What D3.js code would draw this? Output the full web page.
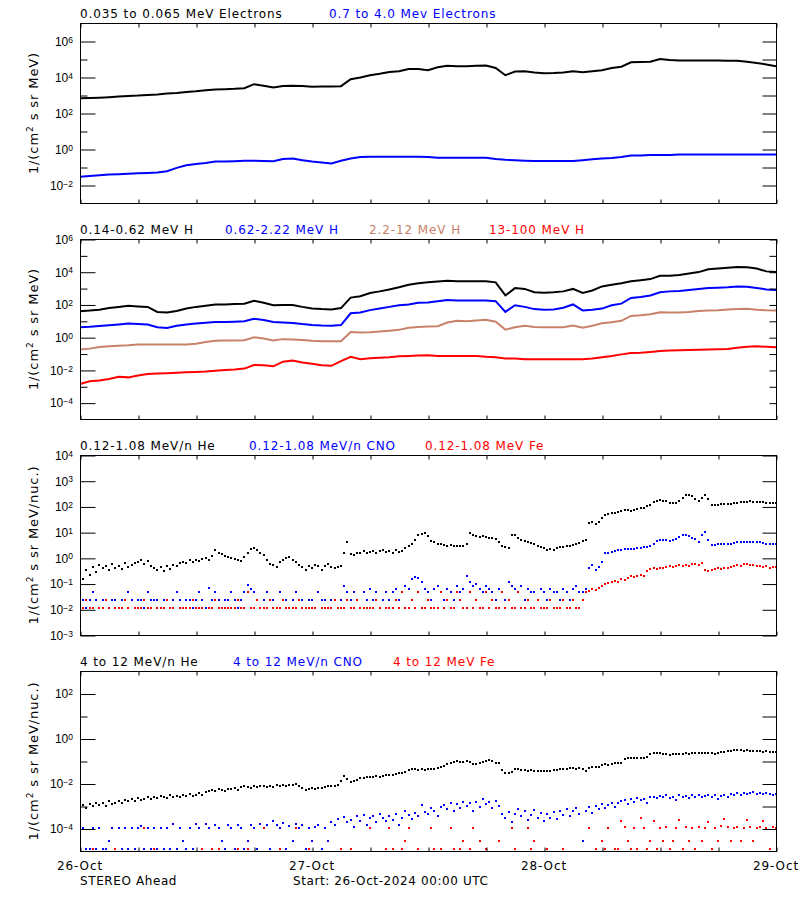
<!DOCTYPE html>
<html><head><meta charset="utf-8">
<script src="https://cdn.jsdelivr.net/npm/d3@7"></script>
<style>
body{margin:0;background:#fff;}
svg{display:block;}
</style></head><body>
<svg id="chart" width="800" height="900"></svg>
<script>
// ---------- time base ----------
const START = Date.UTC(2024, 9, 26, 0, 0);   // 26-Oct-2024 00:00 UTC
const SPAN_HOURS = 72;
const dayTicks = [0, 24, 48, 72];             // hours of day labels

// ---------- tick label exponents ----------
const p1Labels = [-2, 0, 2, 4, 6], p1Minors = [-1, 1, 3, 5];
const p2Labels = [-4, -2, 0, 2, 4, 6], p2Minors = [-3, -1, 1, 3, 5];
const p3Labels = [-3, -2, -1, 0, 1, 2, 3, 4], p3Minors = [];
const p4Labels = [-4, -2, 0, 2], p4Minors = [-3, -1, 1];

// ---------- series names ----------
const p1Names = ["0.035 to 0.065 MeV Electrons", "0.7 to 4.0 Mev Electrons"];
const p2Names = ["0.14-0.62 MeV H", "0.62-2.22 MeV H", "2.2-12 MeV H", "13-100 MeV H"];
const p3Names = ["0.12-1.08 MeV/n He", "0.12-1.08 MeV/n CNO", "0.12-1.08 MeV Fe"];
const p4Names = ["4 to 12 MeV/n He", "4 to 12 MeV/n CNO", "4 to 12 MeV Fe"];

// ---------- panel 1: electrons (hourly) ----------
const eLow = [650,680,710,760,830,890,930,1000,1070,1200,
 1300,1450,1600,1850,2000,2100,2200,2400,4000,3300,
 2600,3200,3300,3200,2900,2950,3000,3100,7600,9500,
 12600,15000,19000,21000,28000,28000,24000,35000,42000,40000,
 40000,42000,43000,32000,12600,20000,21000,18000,16000,16500,
 18000,21000,18500,21000,24000,32000,37000,66000,68000,71000,
 100000,87000,83000,83000,83000,83000,83000,81000,79000,71000,
 60000,50000,39000];
const eHigh = [0.029,0.032,0.035,0.038,0.040,0.042,0.045,0.047,0.050,0.058,
 0.089,0.126,0.148,0.166,0.20,0.20,0.21,0.22,0.224,0.214,
 0.21,0.28,0.295,0.24,0.20,0.178,0.158,0.224,0.30,0.355,
 0.37,0.37,0.37,0.37,0.37,0.37,0.355,0.33,0.33,0.33,
 0.33,0.33,0.33,0.28,0.25,0.234,0.224,0.214,0.214,0.214,
 0.214,0.214,0.24,0.27,0.30,0.32,0.355,0.43,0.44,0.46,
 0.46,0.46,0.5,0.5,0.5,0.5,0.5,0.5,0.5,0.5,
 0.5,0.5,0.5];

// ---------- panel 2: protons (hourly) ----------
const hLow = [38,42,48,60,71,83,76,71,35,32,
 40,56,71,83,100,100,105,112,166,126,
 89,93,93,71,56,52,50,60,263,316,
 500,630,830,1120,1580,2000,2240,2500,2800,2630,
 2630,2630,2630,2240,355,1000,890,560,525,560,
 630,890,500,710,1260,1580,2000,2630,3020,3550,
 5600,5750,6300,7900,9500,14100,15800,17800,19500,19000,
 15800,10500,9500];
const hMid = [4.0,4.3,4.8,5.4,6.0,6.8,6.3,5.9,4.0,3.6,
 5.0,6.0,6.8,7.6,8.5,8.5,8.9,9.5,13.5,11.2,
 8.5,7.9,7.4,6.3,5.6,5.2,5.0,5.5,29,32,
 45,56,71,89,100,126,132,158,190,174,
 174,174,174,158,35,89,71,52,48,50,
 63,100,43,48,56,89,112,251,282,355,
 560,630,660,760,890,1000,1050,1120,1260,1200,
 1000,830,760];
const hHigh = [0.174,0.2,0.25,0.28,0.30,0.32,0.355,0.355,0.355,0.355,
 0.355,0.355,0.4,0.5,0.6,0.63,0.63,0.66,1.0,0.83,
 0.63,0.76,0.71,0.68,0.6,0.56,0.56,0.56,2.1,1.9,
 2.0,2.24,2.5,2.8,3.8,4.2,4.5,4.7,7.9,10,
 9.5,10.5,11.7,8.9,2.9,4.0,5.0,4.2,4.0,4.0,
 4.0,5.2,3.8,5.0,7.1,8.3,10,20,22,25,
 33,32,32,35,40,42,45,50,52,55,
 48,44,42];
const hTop = [0.00138,0.002,0.00224,0.0028,0.0038,0.0035,0.0045,0.0056,0.006,0.0063,
 0.0066,0.0071,0.0074,0.0079,0.0089,0.010,0.0107,0.012,0.020,0.019,
 0.0166,0.032,0.038,0.028,0.024,0.019,0.0178,0.034,0.063,0.045,
 0.052,0.056,0.059,0.068,0.071,0.076,0.078,0.071,0.071,0.071,
 0.071,0.071,0.063,0.059,0.05,0.05,0.045,0.045,0.045,0.045,
 0.045,0.045,0.045,0.05,0.06,0.071,0.089,0.107,0.112,0.126,
 0.141,0.151,0.158,0.166,0.17,0.178,0.186,0.19,0.224,0.26,
 0.275,0.26,0.24];

// ---------- panel 3: low-energy ions (20-min) ----------
const he3 = [0.30,0.15,0.35,0.22,0.45,0.28,0.55,0.40,0.48,0.35,0.60,0.42,
 0.50,0.38,0.62,0.45,0.55,0.65,0.70,0.80,0.60,0.75,0.50,0.42,
 0.35,0.45,0.30,0.50,0.38,0.55,0.48,0.62,0.72,0.65,0.80,0.70,
 0.85,0.75,0.90,1.0,0.80,1.2,2.0,1.6,1.4,1.2,1.1,0.95,
 0.90,0.85,0.75,1.1,1.5,2.2,2.4,2.0,1.6,1.3,0.85,0.60,
 0.55,0.45,0.70,0.80,0.95,1.1,0.85,0.70,0.55,0.45,0.35,0.50,
 0.40,0.55,0.48,0.35,0.50,0.60,0.45,0.40,0.45,0.50,1.5,4.3,
 1.4,1.3,1.5,1.6,1.8,1.5,1.7,1.9,1.6,1.8,2.0,1.7,
 1.8,1.6,2.0,1.7,1.9,2.4,3.0,3.5,5.0,7.5,8.5,9.0,
 7.0,4.5,4.0,3.5,3.5,3.2,3.0,3.2,2.8,3.0,2.9,3.0,
 3.5,9.0,8.0,7.0,6.5,6.8,6.5,6.0,5.8,5.5,4.0,3.0,
 2.7,2.5,7.5,7.8,6.0,5.0,4.5,4.0,3.8,3.6,3.0,2.6,
 2.4,2.0,2.2,2.0,2.4,2.6,2.7,2.8,3.0,3.2,3.6,3.8,
 4.5,4.9,22,25,20,24,35,45,52,55,58,60,
 65,70,72,68,75,80,85,90,100,110,150,160,
 180,170,160,140,135,130,160,220,270,280,250,200,
 165,220,275,200,115,110,115,120,120,125,120,130,
 140,145,150,155,160,150,155,150,145,140,140,138,
 137];
const cno3 = [.011,.023,.011,.023,.045,.023,.011,.023,.023,.011,.023,.023,
 .011,.023,.023,.045,.023,.011,.023,.023,.011,.045,.023,.023,
 .023,.011,.023,.023,.011,.023,.045,.023,.011,.023,.023,.011,
 .023,.045,.023,.011,.07,.023,.045,.023,.011,.023,.023,.045,
 .023,.011,.023,.045,.09,.06,.045,.023,.011,.023,.045,.023,
 .023,.011,.045,.023,.023,.011,.023,.045,.023,.023,.011,.023,
 .023,.011,.045,.023,.023,.011,.023,.023,null,.023,.08,.045,
 .023,.045,.023,.011,.045,.023,.06,.023,.045,.011,.023,.045,
 .023,.045,.06,.023,.045,.08,.06,.15,.18,.16,.12,.06,
 .045,.023,.06,.08,.045,.023,.06,.045,.023,.08,.045,.06,
 .2,.12,.08,.10,.06,.045,.08,.06,.045,.023,.06,.045,
 .023,.12,.08,.06,.045,.08,.023,.06,.045,.045,.023,.06,
 .045,.023,.06,.045,.045,.023,.06,.045,.023,.06,.08,.045,
 .045,.06,.4,.55,.35,.45,.7,1.5,1.6,1.7,1.8,2.0,
 2.1,2.2,2.3,2.2,2.3,2.4,2.5,2.6,2.7,2.8,3.5,4.5,
 4.9,5.0,4.8,4.6,5.0,5.5,6.5,7.8,7.5,7.0,6.0,5.5,
 4.3,8.0,10,5.0,3.2,3.2,3.4,3.5,3.5,3.6,3.6,3.8,
 4.2,4.0,4.3,4.1,4.2,4.0,4.2,4.0,3.8,3.6,3.5,3.4,
 3.4];
const fe3 = [.023,.011,.023,.011,.011,null,.011,.011,.023,.011,null,.011,
 .011,.011,.023,.011,null,.011,.011,.011,.023,.011,.011,null,
 .011,.011,.011,.023,.011,.011,null,.011,.011,.011,.011,.023,
 .011,.011,.011,null,.011,.011,.023,.011,.011,.011,.011,.011,
 .011,.023,.011,.011,.045,.011,.011,.023,.011,.011,.011,.023,
 .011,.011,.011,.023,.011,.011,.011,.011,.023,.011,.011,.011,
 .011,.011,null,.011,.011,.011,.011,.023,.011,.011,.011,.023,
 .011,.011,.023,.011,.011,.011,.011,.011,.023,.011,null,.011,
 .011,.011,.023,.011,.045,.011,.011,.023,.011,.045,.011,.011,
 .023,.011,.011,.011,.045,.011,.023,.011,.011,.045,.023,.011,
 .011,.045,.011,.023,.011,.011,.045,.011,.023,.011,.011,.045,
 .011,.023,.011,.011,.045,.011,.011,.023,.011,.011,.023,.011,
 .011,.011,.023,.011,.011,.011,.023,.011,.011,.023,.011,.011,
 .023,.045,.05,.06,.055,.07,.08,.10,.11,.12,.13,.12,
 .15,.14,.17,.19,.18,.20,.22,.20,.30,.38,.40,.36,
 .42,.40,.45,.48,.44,.50,.52,.48,.55,.50,.58,.60,
 .55,.65,.35,.30,.35,.38,.40,.36,.42,.40,.45,.48,
 .55,.50,.60,.58,.55,.52,.50,.48,.45,.50,.42,.45,
 .45];

// ---------- panel 4: high-energy ions (20-min) ----------
const he4 = [9e-4,1.1e-3,8e-4,1.2e-3,1.0e-3,1.4e-3,1.1e-3,1.3e-3,1.0e-3,1.6e-3,1.2e-3,1.4e-3,
 1.6e-3,1.4e-3,1.8e-3,1.7e-3,2.1e-3,1.6e-3,2.2e-3,1.9e-3,2.0e-3,2.4e-3,2.1e-3,2.5e-3,
 2.3e-3,2.8e-3,2.5e-3,2.2e-3,3.0e-3,2.6e-3,2.9e-3,2.4e-3,3.1e-3,2.7e-3,3.3e-3,2.9e-3,
 3.2e-3,3.6e-3,3.0e-3,4.2e-3,4.8e-3,5.2e-3,4.5e-3,5.6e-3,5.0e-3,4.6e-3,5.5e-3,5.8e-3,
 6.2e-3,5.4e-3,7.0e-3,7.8e-3,7.2e-3,6.5e-3,8.0e-3,7.0e-3,7.6e-3,7.8e-3,6.8e-3,7.5e-3,
 7.2e-3,8.2e-3,7.5e-3,8.6e-3,7.8e-3,9.0e-3,8.8e-3,9.2e-3,8.0e-3,6.0e-3,5.4e-3,5.8e-3,
 6.2e-3,5.5e-3,6.6e-3,6.0e-3,7.2e-3,7.6e-3,7.8e-3,8.0e-3,8.5e-3,1.3e-2,2.2e-2,1.6e-2,
 1.2e-2,1.3e-2,1.5e-2,1.7e-2,1.8e-2,1.9e-2,1.9e-2,2.0e-2,2.1e-2,2.0e-2,2.2e-2,2.3e-2,
 2.4e-2,2.4e-2,2.6e-2,2.8e-2,3.0e-2,3.4e-2,3.8e-2,4.5e-2,4.2e-2,4.0e-2,4.2e-2,4.0e-2,
 4.2e-2,4.4e-2,4.6e-2,5.0e-2,5.5e-2,5.8e-2,7.5e-2,8.5e-2,9.0e-2,1.0e-1,9.5e-2,9.0e-2,
 1.0e-1,9.0e-2,7.5e-2,7.2e-2,8.0e-2,9.0e-2,1.05e-1,1.1e-1,1.0e-1,8.5e-2,8.0e-2,3.8e-2,
 3.0e-2,2.8e-2,3.3e-2,4.2e-2,4.5e-2,4.0e-2,3.8e-2,3.6e-2,3.8e-2,3.6e-2,3.5e-2,3.6e-2,
 3.6e-2,3.7e-2,3.6e-2,3.8e-2,4.0e-2,4.2e-2,4.3e-2,4.5e-2,4.8e-2,5.0e-2,4.6e-2,5.0e-2,
 4.2e-2,3.6e-2,4.8e-2,5.6e-2,5.2e-2,5.4e-2,6.5e-2,7.0e-2,6.8e-2,7.5e-2,7.8e-2,8.2e-2,
 8.5e-2,1.2e-1,1.4e-1,1.4e-1,1.35e-1,1.4e-1,1.3e-1,1.4e-1,1.5e-1,2.1e-1,2.2e-1,2.2e-1,
 2.2e-1,2.1e-1,2.0e-1,1.9e-1,2.0e-1,2.1e-1,2.0e-1,2.1e-1,2.2e-1,2.1e-1,2.2e-1,2.2e-1,
 2.3e-1,2.2e-1,2.3e-1,2.2e-1,2.2e-1,2.1e-1,2.3e-1,2.4e-1,2.5e-1,2.7e-1,2.9e-1,3.0e-1,
 3.1e-1,3.0e-1,2.9e-1,3.0e-1,2.8e-1,2.9e-1,2.8e-1,2.7e-1,2.6e-1,2.7e-1,2.6e-1,2.5e-1,
 2.6e-1];
const cno4 = [1.2e-5,1.1e-4,1.2e-5,1.2e-5,1.1e-4,1.2e-5,1.1e-4,1.2e-5,1.2e-5,2.8e-5,1.1e-4,1.2e-5,
 1.1e-4,1.2e-5,1.1e-4,1.2e-5,1.1e-4,1.2e-5,1.1e-4,1.3e-4,1.2e-5,1.1e-4,1.2e-5,1.1e-4,
 1.2e-5,1.1e-4,1.2e-5,1.1e-4,1.2e-5,1.6e-4,1.2e-5,1.1e-4,2.8e-5,1.2e-5,1.1e-4,1.2e-5,
 1.6e-4,1.1e-4,1.2e-5,1.6e-4,1.1e-4,1.2e-5,1.5e-4,1.1e-4,2.8e-5,1.2e-5,1.4e-4,1.1e-4,
 1.2e-5,1.5e-4,1.1e-4,1.2e-5,2.8e-5,1.4e-4,1.1e-4,1.2e-5,1.6e-4,1.1e-4,1.4e-4,1.2e-5,
 2.2e-4,1.4e-4,1.1e-4,1.8e-4,1.2e-5,1.3e-4,2.8e-5,1.6e-4,1.1e-4,1.4e-4,1.2e-5,1.1e-4,
 2.8e-5,1.2e-4,1.5e-4,1.2e-5,1.1e-4,2.8e-5,2.0e-4,1.4e-4,2.6e-4,1.2e-5,3.2e-4,2.0e-4,
 2.5e-4,1.2e-4,3.5e-4,2.2e-4,4.0e-4,1.5e-4,2.8e-4,3.5e-4,2.0e-4,4.5e-4,3.0e-4,2.2e-4,
 3.6e-4,2.5e-4,4.5e-4,1.5e-4,3.0e-4,6.0e-4,4.0e-4,2.6e-4,5.0e-4,3.5e-4,1.1e-3,5.5e-4,
 4.5e-4,8.0e-4,6.0e-4,3.5e-4,9.0e-4,1.1e-3,7.0e-4,1.4e-3,6.0e-4,1.2e-3,8.0e-4,1.5e-3,
 1.0e-3,1.3e-3,6.0e-4,1.5e-3,9.0e-4,2.0e-3,1.2e-3,1.5e-3,8.0e-4,1.6e-3,1.0e-3,4.5e-4,
 3.0e-4,5.5e-4,2.0e-4,4.5e-4,7.0e-4,3.5e-4,6.0e-4,2.5e-4,4.0e-4,6.5e-4,3.0e-4,5.0e-4,
 2.2e-4,4.5e-4,3.0e-4,5.5e-4,2.6e-4,6.0e-4,4.0e-4,7.0e-4,3.5e-4,6.0e-4,8.0e-4,4.5e-4,
 2.8e-5,6.0e-4,9.0e-4,5.0e-4,1.0e-3,7.0e-4,1.2e-3,8.0e-4,1.1e-3,1.4e-3,9.0e-4,1.3e-3,
 1.6e-3,1.8e-3,1.2e-3,2.0e-3,1.5e-3,2.2e-3,1.8e-3,2.0e-3,1.4e-3,2.4e-3,2.6e-3,2.2e-3,
 2.8e-3,2.4e-3,3.0e-3,2.2e-3,2.6e-3,1.8e-3,3.0e-3,2.5e-3,2.8e-3,2.2e-3,3.2e-3,2.6e-3,
 3.0e-3,2.4e-3,2.8e-3,3.2e-3,2.6e-3,3.0e-3,2.0e-3,2.8e-3,3.2e-3,2.6e-3,3.4e-3,3.0e-3,
 3.6e-3,3.2e-3,3.8e-3,3.4e-3,3.6e-3,4.0e-3,3.5e-3,3.8e-3,3.4e-3,3.7e-3,3.5e-3,3.2e-3,
 3.3e-3];
const fe4 = [null,null,null,null,1.2e-5,null,null,null,null,null,null,1.2e-5,
 null,null,null,null,null,null,null,null,1.1e-4,null,null,1.2e-5,
 null,null,null,null,null,null,null,null,null,null,null,null,
 null,null,1.2e-5,null,null,1.2e-5,null,1.2e-5,null,null,null,null,
 null,1.2e-5,null,null,1.2e-5,null,null,null,null,1.1e-4,null,null,
 null,null,1.2e-5,null,null,null,null,1.1e-4,null,null,null,1.2e-5,
 null,null,null,null,null,null,null,null,null,1.2e-5,null,null,
 1.2e-5,null,null,null,null,null,1.1e-4,null,null,null,null,1.2e-5,
 1.1e-4,1.2e-5,null,null,1.2e-5,2.8e-5,1.1e-4,null,null,1.2e-5,null,null,
 null,1.1e-4,1.2e-5,null,1.2e-5,null,null,1.1e-4,1.2e-5,null,1.2e-5,2.8e-5,
 null,1.2e-5,1.1e-4,null,2.8e-5,null,1.2e-5,null,null,null,2.8e-5,null,
 null,null,1.1e-4,1.2e-5,null,null,null,1.1e-4,1.2e-5,2.8e-5,null,null,
 null,1.2e-5,null,null,null,null,1.2e-5,null,null,null,null,null,
 null,null,1.1e-4,null,1.2e-5,null,2.8e-5,1.2e-5,1.1e-4,null,1.2e-5,1.2e-5,
 2.2e-4,1.2e-4,2.8e-5,1.2e-5,1.1e-4,1.2e-5,2.8e-4,1.1e-4,1.2e-5,2.8e-5,2.2e-4,1.2e-5,
 1.1e-4,2.8e-5,1.2e-4,1.2e-5,2.8e-5,1.1e-4,2.5e-4,1.2e-5,1.2e-4,2.8e-5,1.1e-4,1.2e-5,
 1.2e-4,2.8e-5,1.1e-4,2.0e-4,1.2e-5,1.1e-4,2.8e-5,1.3e-4,2.6e-4,1.2e-4,2.8e-5,1.1e-4,
 1.2e-4,2.8e-5,1.1e-4,2.4e-4,1.2e-4,2.8e-5,1.1e-4,1.2e-4,2.2e-4,1.1e-4,1.2e-5,1.2e-4,
 1.1e-4];

// ---------- layout & styles ----------
const X0 = 80, X1 = 776, PH = 180;
const BLACK = "#000000", BLUE = "#0000ff", RED = "#ff0000", BROWN = "#c8826a";
const TXT = "'DejaVu Sans', sans-serif";
const NUM = "'Liberation Sans', Arial, sans-serif";

const panels = [
  { top: 23, domain: [1e-3, 1e7], labels: p1Labels, minors: p1Minors, rightLen: 14,
    unit: "MeV", names: p1Names, nameX: [80, 329], colors: [BLACK, BLUE],
    series: [{ data: eLow, step: 60, kind: "line" }, { data: eHigh, step: 60, kind: "line" }] },
  { top: 239, domain: [1e-5, 1e6], labels: p2Labels, minors: p2Minors, rightLen: 7,
    unit: "MeV", names: p2Names, nameX: [80, 225, 369, 489], colors: [BLACK, BLUE, BROWN, RED],
    series: [{ data: hLow, step: 60, kind: "line" }, { data: hMid, step: 60, kind: "line" },
             { data: hHigh, step: 60, kind: "line" }, { data: hTop, step: 60, kind: "line" }] },
  { top: 455, domain: [1e-3, 1e4], labels: p3Labels, minors: p3Minors, rightLen: 14,
    unit: "MeV/nuc.", names: p3Names, nameX: [80, 249, 425], colors: [BLACK, BLUE, RED],
    series: [{ data: he3, step: 20, kind: "dot" }, { data: cno3, step: 20, kind: "dot" },
             { data: fe3, step: 20, kind: "dot" }] },
  { top: 671, domain: [1e-5, 1e3], labels: p4Labels, minors: p4Minors, rightLen: 14,
    unit: "MeV/nuc.", names: p4Names, nameX: [80, 233, 393], colors: [BLACK, BLUE, RED],
    series: [{ data: he4, step: 20, kind: "dot" }, { data: cno4, step: 20, kind: "dot" },
             { data: fe4, step: 20, kind: "dot" }] }
];

const svg = d3.select("#chart");
svg.append("rect").attr("width", 800).attr("height", 900).attr("fill", "#fff");

const x = d3.scaleUtc()
  .domain([new Date(START), new Date(START + SPAN_HOURS * 3600e3)])
  .range([X0, X1]);
const tAt = (i, stepMin) => new Date(START + i * stepMin * 60e3);

panels.forEach((p, pi) => {
  const y = d3.scaleLog().domain(p.domain).range([p.top + PH, p.top]);

  // clip
  const cid = "clip" + pi;
  svg.append("clipPath").attr("id", cid).append("rect")
    .attr("x", X0).attr("y", p.top).attr("width", X1 - X0).attr("height", PH);
  const dg = svg.append("g").attr("clip-path", `url(#${cid})`);

  p.series.forEach((s, si) => {
    const color = p.colors[si];
    const pts = s.data.map((v, i) => ({ t: tAt(i, s.step), v })).filter(d => d.v != null);
    if (s.kind === "line") {
      dg.append("path").datum(pts)
        .attr("d", d3.line().x(d => x(d.t)).y(d => y(d.v)))
        .attr("fill", "none").attr("stroke", color).attr("stroke-width", 2)
        .attr("stroke-linejoin", "miter");
    } else {
      dg.append("g").selectAll("rect").data(pts).join("rect")
        .attr("x", d => Math.round(x(d.t)) - 1)
        .attr("y", d => Math.round(y(d.v)) - 1)
        .attr("width", 2).attr("height", 2).attr("fill", color);
    }
  });

  const ag = svg.append("g").attr("transform", "translate(0.5,0.5)").attr("color", "#000");
  const rm = g => g.select(".domain").remove();
  const majors = p.labels.map(e => Math.pow(10, e));
  const minors = p.minors.map(e => Math.pow(10, e));

  ag.append("g").attr("transform", `translate(${X0},0)`)
    .call(d3.axisLeft(y).tickValues(majors).tickSizeInner(-15).tickSizeOuter(0).tickFormat(() => ""))
    .call(rm);
  ag.append("g").attr("transform", `translate(${X0},0)`)
    .call(d3.axisLeft(y).tickValues(minors).tickSizeInner(-7).tickSizeOuter(0).tickFormat(() => ""))
    .call(rm);
  ag.append("g").attr("transform", `translate(${X1},0)`)
    .call(d3.axisRight(y).tickValues(majors.concat(minors)).tickSizeInner(-p.rightLen).tickSizeOuter(0).tickFormat(() => ""))
    .call(rm);
  ag.append("g").attr("transform", `translate(0,${p.top + PH})`)
    .call(d3.axisBottom(x).ticks(d3.utcHour.every(6)).tickSizeInner(-4).tickSizeOuter(0).tickFormat(() => ""))
    .call(rm);
  ag.append("g").attr("transform", `translate(0,${p.top})`)
    .call(d3.axisTop(x).ticks(d3.utcHour.every(6)).tickSizeInner(-4).tickSizeOuter(0).tickFormat(() => ""))
    .call(rm);
  ag.selectAll(".tick line").attr("stroke", "#000");
  ag.append("rect").attr("x", X0).attr("y", p.top).attr("width", X1 - X0).attr("height", PH)
    .attr("fill", "none").attr("stroke", "#000").attr("stroke-width", 1);

  // exponent labels
  p.labels.forEach(e => {
    const t = svg.append("text").attr("x", 73).attr("y", y(Math.pow(10, e)))
      .attr("dy", "0.4em").attr("text-anchor", "end")
      .attr("font-family", NUM).attr("font-size", 12).attr("fill", "#000");
    t.append("tspan").text("10");
    t.append("tspan").attr("font-size", 8.5).attr("dy", -3.2)
      .text(e < 0 ? "\u2212" + (-e) : String(e));
  });

  // y label
  const yl = svg.append("text")
    .attr("transform", `translate(38,${p.top + PH / 2}) rotate(-90)`)
    .attr("text-anchor", "middle").attr("font-family", TXT).attr("font-size", 13)
    .attr("letter-spacing", 0.9).attr("fill", "#000");
  yl.append("tspan").text("1/(cm");
  yl.append("tspan").attr("font-size", 9).attr("dy", -5).text("2");
  yl.append("tspan").attr("dy", 5).text(" s sr " + p.unit + ")");

  // titles
  p.names.forEach((n, k) => {
    svg.append("text").attr("x", p.nameX[k]).attr("y", p.top - 5)
      .attr("font-family", TXT).attr("font-size", 12).attr("letter-spacing", 0.9)
      .attr("fill", p.colors[k]).text(n);
  });
});

// bottom date labels
const fmt = d3.utcFormat("%d-%b");
const bottom = panels[3].top + PH;
svg.append("g").selectAll("text").data(dayTicks).join("text")
  .attr("x", h => x(new Date(START + h * 3600e3)))
  .attr("y", bottom + 19)
  .attr("text-anchor", "middle").attr("font-family", TXT).attr("font-size", 12)
  .attr("letter-spacing", 0.9).attr("fill", "#000")
  .text(h => fmt(new Date(START + h * 3600e3)));

svg.append("text").attr("x", 80).attr("y", bottom + 34)
  .attr("font-family", TXT).attr("font-size", 12).attr("letter-spacing", 0.6)
  .attr("fill", "#000").text("STEREO Ahead");
svg.append("text").attr("x", 293).attr("y", bottom + 34)
  .attr("font-family", TXT).attr("font-size", 12).attr("letter-spacing", 0.6)
  .attr("fill", "#000").text("Start: 26-Oct-2024 00:00 UTC");
</script>
</body></html>
